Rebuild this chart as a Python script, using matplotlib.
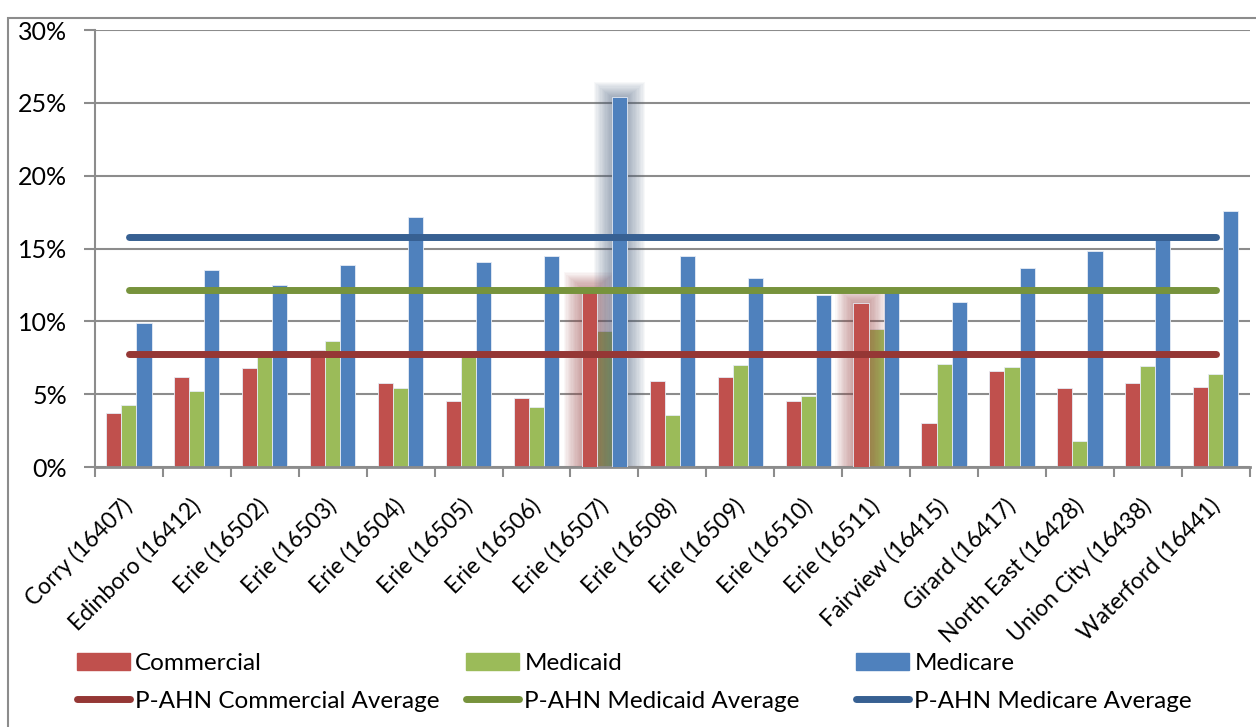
import matplotlib
matplotlib.use('Agg')
from matplotlib import pyplot as plt
from matplotlib.patches import Patch, Rectangle
from matplotlib.lines import Line2D
from matplotlib.transforms import ScaledTranslation
import numpy as np

plt.rcParams['font.family'] = ['Lato', 'DejaVu Sans']

# dados (% de internações)
zonas = ['Corry (16407)', 'Edinboro (16412)', 'Erie (16502)', 'Erie (16503)', 'Erie (16504)',
         'Erie (16505)', 'Erie (16506)', 'Erie (16507)', 'Erie (16508)', 'Erie (16509)',
         'Erie (16510)', 'Erie (16511)', 'Fairview (16415)', 'Girard (16417)',
         'North East (16428)', 'Union City (16438)', 'Waterford (16441)']
comercial = [3.7, 6.15, 6.8, 8.0, 5.77, 4.5, 4.75, 12.3, 5.9, 6.16, 4.55, 11.28, 3.0, 6.59, 5.44, 5.74, 5.5]
medicaid = [4.25, 5.2, 7.7, 8.65, 5.4, 7.8, 4.1, 9.33, 3.57, 7.0, 4.87, 9.45, 7.05, 6.86, 1.8, 6.95, 6.38]
medicare = [9.9, 13.5, 12.5, 13.9, 17.15, 14.1, 14.5, 25.37, 14.5, 13.0, 11.78, 12.0, 11.35, 13.65, 14.85, 16.0, 17.6]
media_comercial = 7.78
media_medicaid = 12.15
media_medicare = 15.8

# barras destacadas com brilho (indice da zona, serie)
destaques = [(7, 'comercial'), (7, 'medicare'), (11, 'comercial')]

COR_COM = '#C0504D'
COR_MCD = '#9BBB59'
COR_MCR = '#4F81BD'
COR_LCOM = '#953735'
COR_LMCD = '#77933C'
COR_LMCR = '#376092'
COR_GRADE = '#8C8C8C'
FONTE = 17.5

fig = plt.figure(figsize=(12.56, 7.27), dpi=100)
ax = fig.add_axes([0.0756, 0.3576, 0.9194, 0.6011])

# moldura externa do gráfico
fig.patches.append(Rectangle((8 / 1256, -0.05), 1.2, 1 - 18 / 727 + 0.05, transform=fig.transFigure,
                             fill=False, edgecolor='#8C8C8C', linewidth=1.5, zorder=0))

n = len(zonas)
x = np.arange(n)
w = 0.222
series = {'comercial': (comercial, -w, COR_COM, '#A04848'),
          'medicaid': (medicaid, 0, COR_MCD, '#6E8A40'),
          'medicare': (medicare, w, COR_MCR, '#4A5F80')}

for nome, (vals, desl, cor, _) in series.items():
  ax.bar(x + desl, vals, width=w, color=cor, edgecolor='#E6ECF5', linewidth=0.6, zorder=2)

# brilho nas barras destacadas
for i, nome in destaques:
  vals, desl, cor, cor_brilho = series[nome]
  for k in range(1, 15):
    d = 0.019 * k
    ax.bar(x[i] + desl, vals[i] + d * 4.0, width=w + 2 * d, color=cor_brilho, alpha=0.045,
           linewidth=0, zorder=2.5)
  ax.bar(x[i] + desl, vals[i], width=w, color=cor, edgecolor='#E6ECF5', linewidth=0.6, zorder=3)

# linhas de média
ax.plot([x[0], x[-1]], [media_comercial] * 2, color=COR_LCOM, linewidth=5, solid_capstyle='round', zorder=4)
ax.plot([x[0], x[-1]], [media_medicaid] * 2, color=COR_LMCD, linewidth=5, solid_capstyle='round', zorder=4)
ax.plot([x[0], x[-1]], [media_medicare] * 2, color=COR_LMCR, linewidth=5, solid_capstyle='round', zorder=4)

ax.set_xlim(-0.5, n - 0.5)
ax.set_ylim(0, 30)
ax.set_yticks(range(0, 31, 5))
ax.set_yticklabels([f'{v}%' for v in range(0, 31, 5)], fontsize=FONTE + 0.5)
ax.yaxis.grid(True, color=COR_GRADE, linewidth=1.5, zorder=0)
ax.set_axisbelow(True)
ax.tick_params(axis='y', length=8, width=1.5, color=COR_GRADE, pad=12)

ax.set_xticks(x)
ax.set_xticklabels(zonas, rotation=45, ha='right', va='top', fontsize=FONTE - 1)
ax.set_xticks(np.arange(n + 1) - 0.5, minor=True)
ax.tick_params(axis='x', which='major', length=0, pad=20)
ax.tick_params(axis='x', which='minor', length=7, width=1.5, color=COR_GRADE)
desloc = ScaledTranslation(8 / 100, 0, fig.dpi_scale_trans)
for rot in ax.get_xticklabels():
  rot.set_transform(rot.get_transform() + desloc)

for lado in ['top', 'right']:
  ax.spines[lado].set_visible(False)
ax.spines['left'].set_color(COR_GRADE)
ax.spines['left'].set_linewidth(1.5)
ax.spines['bottom'].set_color(COR_GRADE)
ax.spines['bottom'].set_linewidth(2)

# legenda em três colunas separadas
colunas = [(Patch(color=COR_COM, label='Commercial'), Line2D([], [], color=COR_LCOM, linewidth=5, solid_capstyle='round', label='P-AHN Commercial Average')),
           (Patch(color=COR_MCD, label='Medicaid'), Line2D([], [], color=COR_LMCD, linewidth=5, solid_capstyle='round', label='P-AHN Medicaid Average')),
           (Patch(color=COR_MCR, label='Medicare'), Line2D([], [], color=COR_LMCR, linewidth=5, solid_capstyle='round', label='P-AHN Medicare Average'))]
posicoes = [77, 466, 856]
for px, handles in zip(posicoes, colunas):
  fig.legend(handles=list(handles), loc='upper left', bbox_to_anchor=(px / 1256, 1 - 653 / 727),
             frameon=False, fontsize=FONTE, handlelength=2.2, handleheight=0.7, handletextpad=0.2,
             labelspacing=0.68, borderaxespad=0, borderpad=0)

fig.savefig('out.png', dpi=100)
